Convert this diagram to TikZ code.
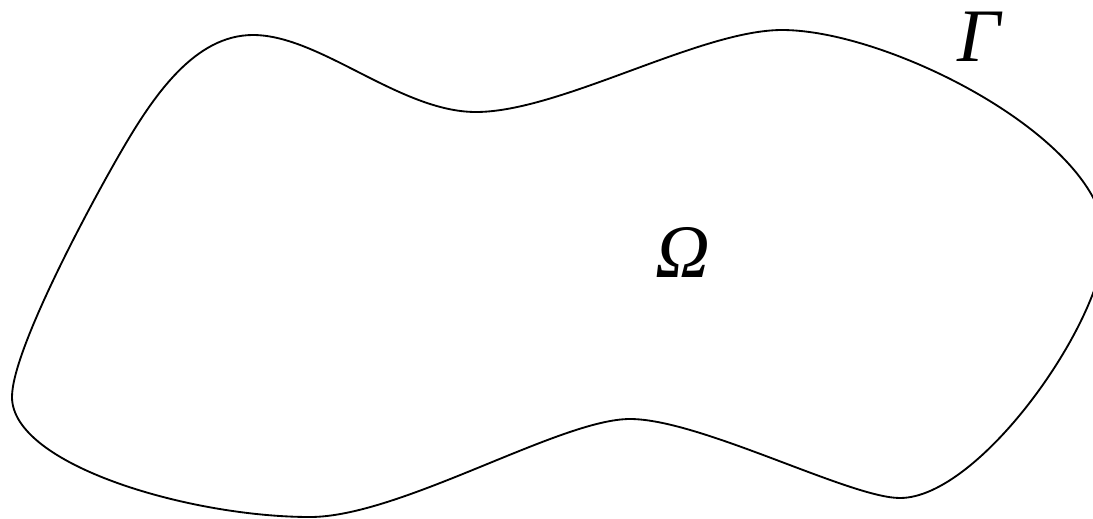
\documentclass[tikz,border=0pt]{standalone}
\usepackage{fontspec}
\setmainfont{Liberation Serif}
\tikzset{
  boundary/.style={line width=1.05pt, black},
  lbl/.style={font=\fontsize{43}{50}\selectfont\itshape, inner sep=0pt}
}
\begin{document}
\begin{tikzpicture}[x=0.02cm, y=-0.02cm]
\useasboundingbox (0,0) rectangle (1093,518);
\begin{scope}
\clip (0,0) rectangle (1093,518);
\draw[boundary] (12,397)
  .. controls (12,350) and (90,205) .. (122,150)
  .. controls (154,95) and (195,35) .. (253,35)
  .. controls (320,35) and (400,112) .. (476,112)
  .. controls (560,112) and (700,30) .. (782,30)
  .. controls (890,30) and (1105,140) .. (1105,240)
  .. controls (1105,320) and (980,498) .. (900,498)
  .. controls (850,498) and (700,419) .. (630,419)
  .. controls (560,419) and (400,517) .. (310,517)
  .. controls (190,517) and (12,465) .. (12,397) -- cycle;
\end{scope}
\node[lbl] (omega) at (683,252) {Ω};
\node[lbl] (gamma) at (979,37) {Γ};
\end{tikzpicture}
\end{document}
